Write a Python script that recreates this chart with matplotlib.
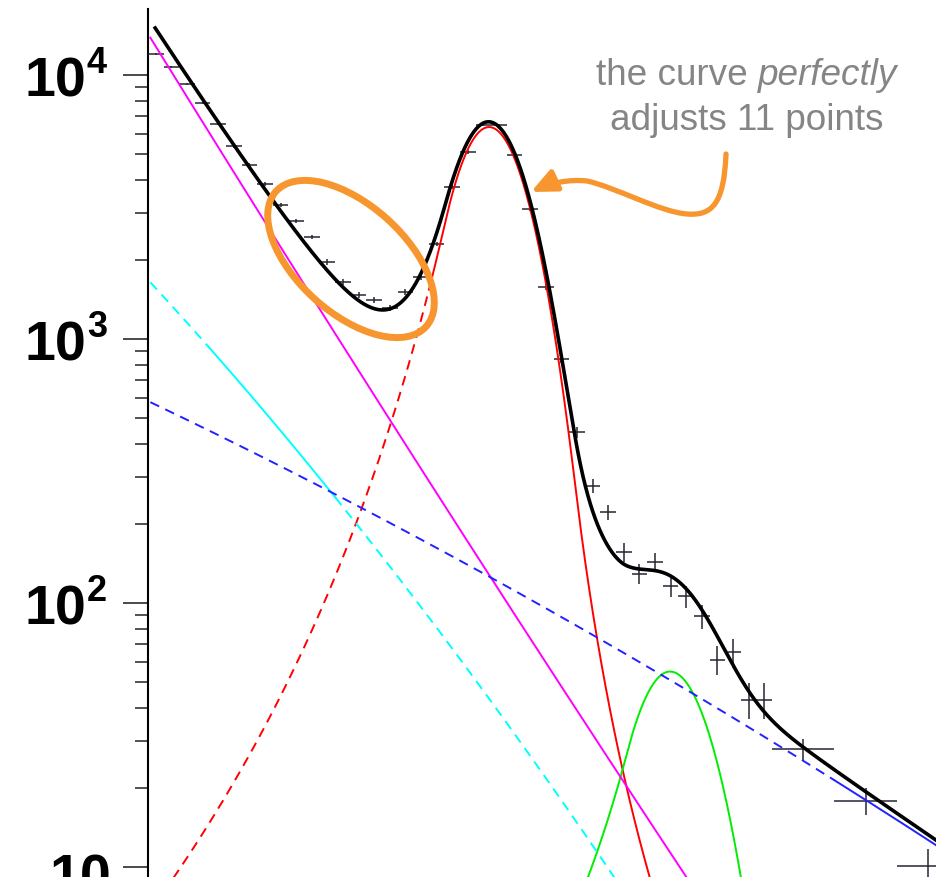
import numpy as np
import matplotlib
matplotlib.use("Agg")
import matplotlib.pyplot as plt
from matplotlib.patches import Ellipse, FancyArrowPatch
from matplotlib.path import Path
from matplotlib.ticker import LogLocator, NullFormatter

# ---------------------------------------------------------------- data
# histogram in bin units: 40 narrow bins, then three bins four times wider
bin_edges = list(range(41)) + [44, 48, 52]
counts = [12010, 10720, 9245, 7830, 6520, 5380, 4560, 3865, 3220, 2800,
          2435, 1957, 1644, 1468, 1405, 1310, 1507, 1717, 2290, 3765,
          5108, 6466, 6466, 4977, 3107, 1574, 840, 444, 277, 221,
          156, 129, 143, 116, 106, 89, 61, 65, 43, 43,
          28, 17.8, 10.1]
count_err = [110, 104, 96, 88, 81, 73, 68, 62, 57, 53,
             49, 44, 41, 38, 37, 36, 39, 41, 48, 61,
             71, 80, 80, 71, 56, 40, 29, 21, 17, 15,
             12.5, 11.4, 12, 10.8, 10.3, 9.4, 7.8, 8.1, 6.6, 6.6,
             2.6, 2.1, 1.6]

# fit components
# falling backgrounds: log10 f(x) = c0 + c1*x + c2*x^2
bkg_steep = [4.1557, -0.09573, 9.22e-5]
bkg_medium = [3.2242, -0.0639, -3.96e-4]
bkg_flat = [2.765, -0.0282, -1.01e-4]
# peaks: amplitude, mean, sigma_left, sigma_right, alpha_left, n_left, alpha_right, n_right
peak_main = [6350, 21.86, 2.18, 2.21, 1.3, 5.2, 2.5, 4.0]
peak_second = [55, 33.46, 2.31, 2.40, 1.2, 3.0, 5.0, 10.0]
# ranges drawn solid (fit ranges), dashed elsewhere
range_medium = (4.0, 12.0)
range_main = (18.0, 60.0)
range_flat = (44.0, 60.0)

y_ticks_exp = [1, 2, 3, 4]


def log_quadratic(x, c):
    return 10.0 ** (c[0] + c[1] * x + c[2] * x ** 2)


def crystal_ball(x, p):
    amp, mu, sl, sr, al, nl, ar, nr = p
    t = np.where(x < mu, (x - mu) / sl, (x - mu) / sr)
    out = np.exp(-0.5 * t ** 2)
    lo = t < -al
    out[lo] = np.exp(-0.5 * al ** 2) * (1 + al * (-t[lo] - al) / nl) ** (-nl)
    hi = t > ar
    out[hi] = np.exp(-0.5 * ar ** 2) * (1 + ar * (t[hi] - ar) / nr) ** (-nr)
    return amp * out


# ---------------------------------------------------------------- figure
W, H = 937, 878
fig = plt.figure(figsize=(W / 100, H / 100), dpi=100)
fig.patch.set_facecolor("white")

ax = fig.add_axes([148 / W, (H - 900) / H, (960 - 148) / W, (900 - 10) / H])
ax.set_xlim(0, (960 - 148) / 15.6)
ax.set_yscale("log")
ax.set_ylim(10 ** (4 - (900 - 76) / 264), 10 ** (4 + (76 - 10) / 264))
ax.patch.set_alpha(0)

for side in ("top", "right", "bottom"):
    ax.spines[side].set_visible(False)
ax.spines["left"].set_linewidth(1.5)
ax.spines["left"].set_color("black")
ax.set_xticks([])
ax.yaxis.set_major_locator(LogLocator(base=10))
ax.yaxis.set_minor_locator(LogLocator(base=10, subs=np.arange(2, 10)))
ax.yaxis.set_minor_formatter(NullFormatter())
ax.tick_params(axis="y", which="major", direction="out", length=18,
               width=1.4, color="#4a4a4a", labelleft=False)
ax.tick_params(axis="y", which="minor", direction="out", length=9.4,
               width=1.2, color="#333333", labelleft=False)

# decade labels
for e in y_ticks_exp:
    if e == 1:
        ax.annotate("10", xy=(111 / W, 10.0 ** e), xycoords=("figure fraction", "data"),
                    xytext=(0, -26), textcoords="offset pixels", ha="right",
                    va="baseline", fontsize=40, fontweight="bold",
                    family="Liberation Sans", annotation_clip=False)
        continue
    ax.annotate("10", xy=(86 / W, 10.0 ** e), xycoords=("figure fraction", "data"),
                xytext=(0, -21), textcoords="offset pixels", ha="right",
                va="baseline", fontsize=40, fontweight="bold",
                family="Liberation Sans", annotation_clip=False)
    ax.annotate(str(e), xy=(87 / W, 10.0 ** e), xycoords=("figure fraction", "data"),
                xytext=(0, 3), textcoords="offset pixels", ha="left",
                va="baseline", fontsize=26, fontweight="bold",
                family="Liberation Sans", annotation_clip=False)

# histogram points
edges = np.asarray(bin_edges, float)
centers = 0.5 * (edges[:-1] + edges[1:])
halfw = 0.5 * np.diff(edges)
ax.errorbar(centers, counts, xerr=halfw, yerr=count_err, fmt="none",
            ecolor="#262633", elinewidth=1.1, capsize=0, zorder=3)

# fit curves
xs = np.linspace(0.15, 52, 3000)
f_steep = log_quadratic(xs, bkg_steep)
f_medium = log_quadratic(xs, bkg_medium)
f_flat = log_quadratic(xs, bkg_flat)
f_main = crystal_ball(xs, peak_main)
f_second = crystal_ball(xs, peak_second)
f_total = f_steep + f_medium + f_flat + f_main + f_second

dash = (0, (5, 3.5))


def split_draw(y, rng, color, z):
    inside = (xs >= rng[0]) & (xs <= rng[1])
    ax.plot(xs, np.where(inside, np.nan, y), color=color, lw=1.4, ls=dash, zorder=z)
    ax.plot(xs, np.where(inside, y, np.nan), color=color, lw=1.4, ls="-", zorder=z)


split_draw(f_main, range_main, "#ff0000", 4)
ax.plot(xs, f_second, color="#00ee00", lw=1.4, zorder=4)
ax.plot(xs, f_steep, color="#ff00ff", lw=1.4, zorder=4)
split_draw(f_medium, range_medium, "#00ffff", 4)
split_draw(f_flat, range_flat, "#2222ff", 4)
m = xs >= 0.45
ax.plot(xs[m], f_total[m], color="black", lw=2.6, zorder=5)

# ---------------------------------------------------------------- annotation layer (pixels)
ov = fig.add_axes([0, 0, 1, 1])
ov.set_xlim(0, W)
ov.set_ylim(H, 0)
ov.axis("off")

orange = "#f7962e"
ov.add_patch(Ellipse((351, 260), 2 * 101, 2 * 54, angle=42, fill=False,
                     edgecolor=orange, lw=5.0, zorder=10))

verts = [(726, 155), (724, 205), (712, 217), (687, 215),
         (660, 213), (615, 188), (587, 182),
         (570, 180), (550, 184), (531, 193)]
codes = [Path.MOVETO] + [Path.CURVE4] * 9
arrow = FancyArrowPatch(path=Path(verts, codes), arrowstyle="-|>,head_length=0.75,head_width=0.34",
                        mutation_scale=20, color=orange, lw=3.8,
                        transform=ov.transData, zorder=10)
ov.add_patch(arrow)

gray = "#858585"
tfont = dict(family="Liberation Sans", fontsize=26.6, color=gray, va="baseline")
r = fig.canvas.get_renderer()
t1 = ov.text(0, 85, "the curve", **tfont)
t2 = ov.text(0, 85, "perfectly", style="italic", **tfont)
tsp = ov.text(0, 85, "a a", **tfont)
tnsp = ov.text(0, 85, "aa", **tfont)
w1 = t1.get_window_extent(r).width
w2 = t2.get_window_extent(r).width
wsp = tsp.get_window_extent(r).width - tnsp.get_window_extent(r).width
tsp.remove()
tnsp.remove()
x0 = 747 - (w1 + wsp + w2) / 2
t1.set_x(x0)
t2.set_x(x0 + w1 + wsp)
ov.text(747, 130, "adjusts 11 points", ha="center", **tfont)

fig.savefig("out.png", dpi=100, facecolor="white")
